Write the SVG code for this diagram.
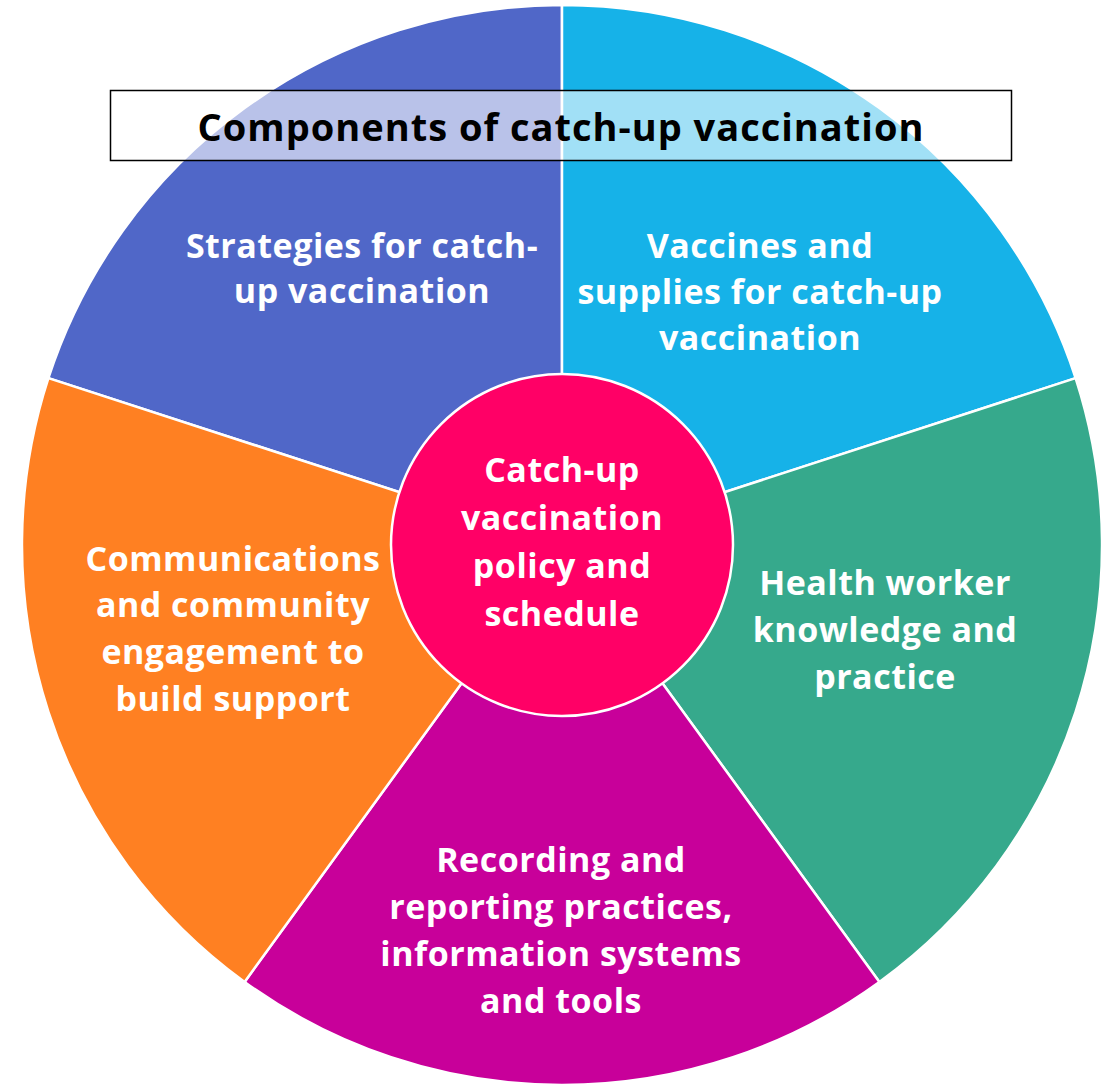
<svg xmlns="http://www.w3.org/2000/svg" width="1108" height="1085" viewBox="0 0 1108 1085">
<style>
.seg{stroke:#fff;stroke-width:2.5;stroke-linejoin:round}
.lbl{font-family:"Open Sans","Liberation Sans",sans-serif;font-weight:bold;font-size:34px;letter-spacing:0.5px;fill:#fff;text-anchor:middle}
.title{font-family:"Open Sans","Liberation Sans",sans-serif;font-weight:bold;font-size:38px;letter-spacing:1px;fill:#000;text-anchor:middle}
</style>
<rect width="1108" height="1085" fill="#fff"/>
<g id="seg-strategies">
<path class="seg" fill="#5067C8" d="M562,545 L562,5 A540,540 0 0 0 48.4,378.1 Z"/>
<text class="lbl"><tspan x="362" y="258">Strategies for catch-</tspan><tspan x="362" y="303">up vaccination</tspan></text>
</g>
<g id="seg-vaccines">
<path class="seg" fill="#16B2E8" d="M562,545 L562,5 A540,540 0 0 1 1075.6,378.1 Z"/>
<text class="lbl"><tspan x="760" y="258">Vaccines and</tspan><tspan x="760" y="304">supplies for catch-up</tspan><tspan x="760" y="350">vaccination</tspan></text>
</g>
<g id="seg-health">
<path class="seg" fill="#36A98C" d="M562,545 L1075.6,378.1 A540,540 0 0 1 879.4,981.9 Z"/>
<text class="lbl"><tspan x="885" y="595">Health worker</tspan><tspan x="885" y="642">knowledge and</tspan><tspan x="885" y="689">practice</tspan></text>
</g>
<g id="seg-recording">
<path class="seg" fill="#C8009A" d="M562,545 L879.4,981.9 A540,540 0 0 1 244.6,981.9 Z"/>
<text class="lbl"><tspan x="561" y="872">Recording and</tspan><tspan x="561" y="919">reporting practices,</tspan><tspan x="561" y="966">information systems</tspan><tspan x="561" y="1013">and tools</tspan></text>
</g>
<g id="seg-communications">
<path class="seg" fill="#FF8022" d="M562,545 L244.6,981.9 A540,540 0 0 1 48.4,378.1 Z"/>
<text class="lbl"><tspan x="233" y="571">Communications</tspan><tspan x="233" y="617">and community</tspan><tspan x="233" y="664">engagement to</tspan><tspan x="233" y="711">build support</tspan></text>
</g>
<g id="center">
<circle cx="562" cy="545" r="171" fill="#FF0066" stroke="#fff" stroke-width="2.5"/>
<text class="lbl"><tspan x="562" y="482">Catch-up</tspan><tspan x="562" y="530">vaccination</tspan><tspan x="562" y="578">policy and</tspan><tspan x="562" y="626">schedule</tspan></text>
</g>
<g id="title">
<rect x="110.5" y="90.5" width="901" height="70" fill="#fff" fill-opacity="0.6" stroke="#000" stroke-width="1.5"/>
<text class="title" x="561" y="141">Components of catch-up vaccination</text>
</g>
<g id="connectors"/>
</svg>
